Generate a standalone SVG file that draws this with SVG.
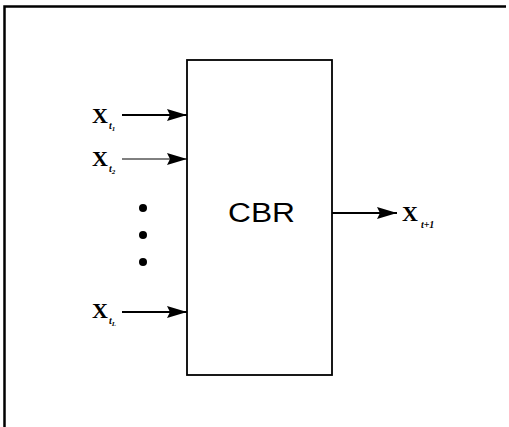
<svg xmlns="http://www.w3.org/2000/svg" width="509" height="427" viewBox="0 0 509 427">
<defs>
<style>
.ln{stroke:#000;fill:none}
.x{font-family:"Liberation Serif",serif;font-weight:bold;font-size:22px;fill:#000}
.s{font-family:"Liberation Serif",serif;font-style:italic;font-size:10px;fill:#000}
.ss{font-family:"Liberation Serif",serif;font-style:italic;font-size:7px;fill:#000}
</style>
<marker id="ah" markerWidth="20" markerHeight="12" refX="20" refY="6" orient="auto" markerUnits="userSpaceOnUse">
<path d="M0,0 L20,6 L0,12 L3,6 Z" fill="#000"/>
</marker>
</defs>
<rect width="509" height="427" fill="#fff"/>
<g id="frame">
<path class="ln" stroke-width="2.5" d="M4.5,427 V6.5 H506"/>
</g>
<g id="cbr">
<rect x="187" y="60" width="145" height="315" class="ln" stroke-width="1.8"/>
<text x="228" y="222" font-family="Liberation Sans,Arial,sans-serif" font-size="27" textLength="67" lengthAdjust="spacingAndGlyphs">CBR</text>
</g>
<g id="in1"><text class="x" x="92" y="123">X<tspan class="s" dx="1" dy="6">t</tspan><tspan class="ss" dy="2">1</tspan></text></g>
<g id="in2"><text class="x" x="92" y="166">X<tspan class="s" dx="1" dy="6">t</tspan><tspan class="ss" dy="2">2</tspan></text></g>
<g id="inL"><text class="x" x="92" y="318">X<tspan class="s" dx="1" dy="6">t</tspan><tspan class="ss" dy="2">L</tspan></text></g>
<g id="out"><text class="x" x="402" y="221">X<tspan class="s" dx="3" dy="7">t+1</tspan></text></g>
<g id="dots">
<circle cx="143" cy="208" r="4"/>
<circle cx="143" cy="235" r="4"/>
<circle cx="143" cy="262" r="4"/>
</g>
<g id="connectors">
<line class="ln" stroke-width="1.8" x1="122" y1="115" x2="187" y2="115" marker-end="url(#ah)"/>
<line class="ln" stroke-width="1" x1="122" y1="159" x2="187" y2="159" marker-end="url(#ah)"/>
<line class="ln" stroke-width="1.8" x1="122" y1="312" x2="187" y2="312" marker-end="url(#ah)"/>
<line class="ln" stroke-width="1.8" x1="332" y1="213" x2="397" y2="213" marker-end="url(#ah)"/>
</g>
</svg>
